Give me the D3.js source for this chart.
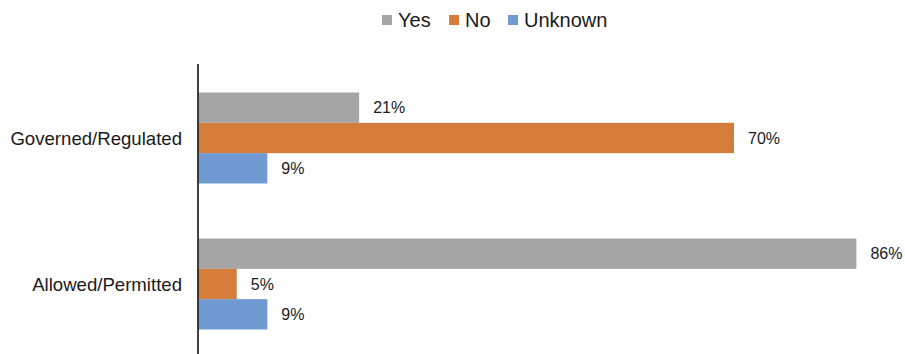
<!DOCTYPE html>
<html>
<head>
<meta charset="utf-8">
<script src="https://cdn.jsdelivr.net/npm/d3@7"></script>
<style>
  body { margin: 0; background: #fff; }
  text { font-family: "Liberation Sans", Arial, Helvetica, sans-serif; fill: #1a1a1a; }
</style>
</head>
<body>
<svg id="chart" width="905" height="354"></svg>
<script>
let categories = ["Governed/Regulated", "Allowed/Permitted"];
let seriesNames = ["Yes", "No", "Unknown"];
let yesValues = [21, 86];
let noValues = [70, 5];
let unknownValues = [9, 9];
let colors = ["#A5A5A5", "#D57C3B", "#6F9BD2"];

let width = 905, height = 354;
let svg = d3.select('#chart');

// build rows for the grouped bars
let rows = categories.map((c, i) => ({
  category: c,
  values: [yesValues[i], noValues[i], unknownValues[i]]
}));

let x = d3.scaleLinear().domain([0, 100]).range([198.5, 963.5]);

let y0 = d3.scaleBand()
           .domain(categories)
           .range([65, 357])
           .paddingInner(0.377)
           .paddingOuter(0.1885);

let y1 = d3.scaleBand()
           .domain(seriesNames)
           .range([0, y0.bandwidth()]);

let groups = svg.selectAll(".group")
                .data(rows)
                .enter()
                .append("g")
                .attr("class", "group")
                .attr("transform", d => "translate(0," + y0(d.category) + ")");

groups.selectAll("rect")
      .data(d => d.values.map((v, i) => ({series: seriesNames[i], value: v, idx: i})))
      .enter()
      .append("rect")
      .attr("x", x(0))
      .attr("y", d => y1(d.series))
      .attr("width", d => x(d.value) - x(0))
      .attr("height", y1.bandwidth())
      .attr("fill", d => colors[d.idx])

groups.selectAll(".val")
      .data(d => d.values.map((v, i) => ({series: seriesNames[i], value: v})))
      .enter()
      .append("text")
      .attr("class", "val")
      .attr("x", d => x(d.value) + 14)
      .attr("y", d => y1(d.series) + y1.bandwidth() / 2)
      .attr("dy", "0.36em")
      .attr("font-size", 16)
      .text(d => d.value + "%")

// category axis: just the line and labels
svg.append("line")
   .attr("x1", 198).attr("x2", 198)
   .attr("y1", 64).attr("y2", height)
   .attr("stroke", "#000")
   .attr("stroke-width", 1.5)

svg.selectAll(".cat")
   .data(categories)
   .enter()
   .append("text")
   .attr("class", "cat")
   .attr("x", 182)
   .attr("y", d => y0(d) + y0.bandwidth() / 2)
   .attr("dy", "0.36em")
   .attr("text-anchor", "end")
   .attr("font-size", 18.6)
   .text(d => d)

// legend
let legendX = [382, 449, 508];
let legend = svg.selectAll(".legend")
                .data(seriesNames)
                .enter()
                .append("g")
                .attr("class", "legend")
                .attr("transform", (d, i) => "translate(" + legendX[i] + ",15)");

legend.append("rect")
      .attr("width", 10)
      .attr("height", 10)
      .attr("fill", (d, i) => colors[i])

legend.append("text")
      .attr("x", 16)
      .attr("y", 12.3)
      .attr("font-size", 20)
      .text(d => d)
</script>
</body>
</html>
